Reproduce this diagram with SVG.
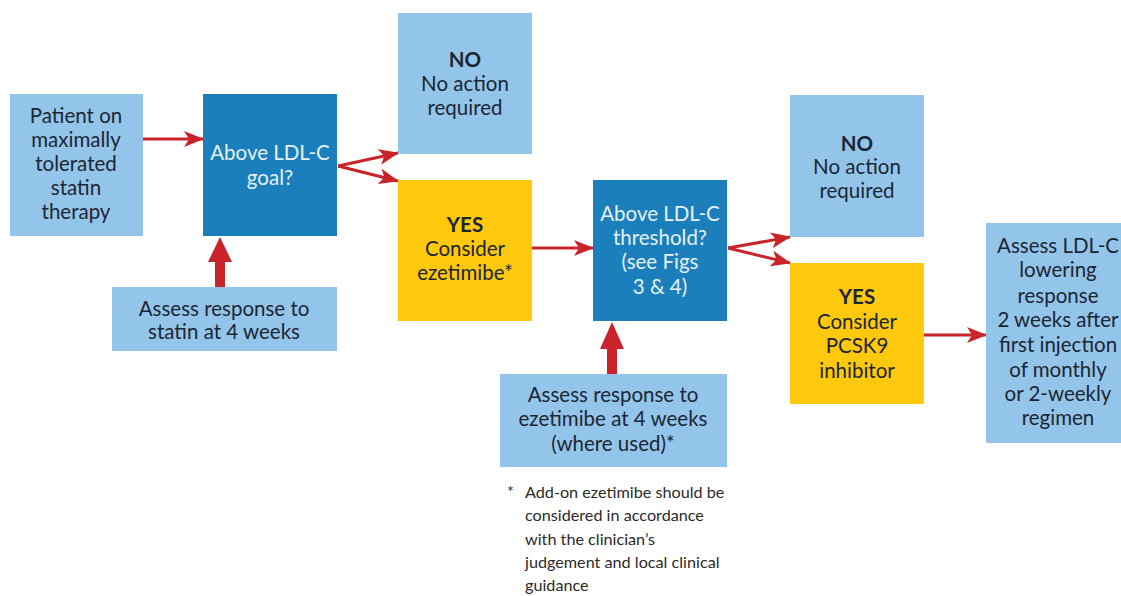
<svg xmlns="http://www.w3.org/2000/svg" width="1121" height="596" viewBox="0 0 1121 596">
<style>
.lb{fill:#93c5ea}
.db{fill:#1a7fbb}
.ye{fill:#fec80c}
text{font-family:Lato,"Open Sans","Liberation Sans",sans-serif;font-size:20.5px;fill:#1c2633;text-anchor:middle}
.w{fill:#e6f0f8}
.b{font-weight:bold}
.fn{font-size:16.2px;text-anchor:start;fill:#2a2a2a}
.ln{stroke:#c8242a;stroke-width:3;fill:none;marker-end:url(#ah)}
.thick{fill:#c8242a}
</style>
<defs>
<marker id="ah" markerUnits="userSpaceOnUse" markerWidth="20" markerHeight="16" refX="19" refY="8" orient="auto">
<path d="M0,0 L20,8 L0,16 L5,8 Z" fill="#c8242a"/>
</marker>
</defs>
<rect width="1121" height="596" fill="#ffffff"/>
<g id="connectors">
<line class="ln" x1="143" y1="139" x2="203" y2="139"/>
<line class="ln" x1="338" y1="166" x2="398" y2="153"/>
<line class="ln" x1="338" y1="166" x2="398" y2="181"/>
<line class="ln" x1="532" y1="248" x2="593" y2="248"/>
<line class="ln" x1="728" y1="248" x2="790" y2="237"/>
<line class="ln" x1="728" y1="248" x2="790" y2="263"/>
<line class="ln" x1="924" y1="335" x2="986" y2="335"/>
<polygon class="thick" points="215,287 215,262 208,262 220,237 232,262 225,262 225,287"/>
<polygon class="thick" points="607,374 607,349 600,349 612,322 624,349 617,349 617,374"/>
</g>
<g id="patient">
<rect class="lb" x="10" y="94" width="133" height="142"/>
<text x="76" y="123">Patient on</text>
<text x="76" y="147">maximally</text>
<text x="76" y="171">tolerated</text>
<text x="76" y="195">statin</text>
<text x="76" y="219">therapy</text>
</g>
<g id="goal">
<rect class="db" x="203" y="94" width="134" height="142"/>
<text class="w" x="270" y="160">Above LDL-C</text>
<text class="w" x="270" y="185">goal?</text>
</g>
<g id="assess-statin">
<rect class="lb" x="112" y="287" width="225" height="64"/>
<text x="224" y="316">Assess response to</text>
<text x="224" y="339">statin at 4 weeks</text>
</g>
<g id="no1">
<rect class="lb" x="398" y="13" width="134" height="141"/>
<text class="b" x="465" y="67">NO</text>
<text x="465" y="91">No action</text>
<text x="465" y="115">required</text>
</g>
<g id="yes1">
<rect class="ye" x="398" y="180" width="134" height="141"/>
<text class="b" x="465" y="232">YES</text>
<text x="465" y="256">Consider</text>
<text x="465" y="280">ezetimibe*</text>
</g>
<g id="threshold">
<rect class="db" x="593" y="180" width="134" height="141"/>
<text class="w" x="660" y="221">Above LDL-C</text>
<text class="w" x="660" y="245">threshold?</text>
<text class="w" x="660" y="269">(see Figs</text>
<text class="w" x="660" y="294">3 &amp; 4)</text>
</g>
<g id="assess-ezetimibe">
<rect class="lb" x="500" y="374" width="227" height="93"/>
<text x="613" y="402">Assess response to</text>
<text x="613" y="426">ezetimibe at 4 weeks</text>
<text x="613" y="451">(where used)*</text>
</g>
<g id="no2">
<rect class="lb" x="790" y="95" width="134" height="142"/>
<text class="b" x="857" y="151">NO</text>
<text x="857" y="174">No action</text>
<text x="857" y="198">required</text>
</g>
<g id="yes2">
<rect class="ye" x="790" y="263" width="134" height="141"/>
<text class="b" x="857" y="304">YES</text>
<text x="857" y="329">Consider</text>
<text x="857" y="353">PCSK9</text>
<text x="857" y="378">inhibitor</text>
</g>
<g id="assess-pcsk9">
<rect class="lb" x="986" y="223" width="144" height="220"/>
<text x="1058" y="253">Assess LDL-C</text>
<text x="1058" y="277">lowering</text>
<text x="1058" y="303">response</text>
<text x="1058" y="327">2 weeks after</text>
<text x="1058" y="352">first injection</text>
<text x="1058" y="377">of monthly</text>
<text x="1058" y="401">or 2-weekly</text>
<text x="1058" y="425">regimen</text>
</g>
<g id="footnote">
<text class="fn" x="507" y="497">*</text>
<text class="fn" x="525" y="498">Add-on ezetimibe should be</text>
<text class="fn" x="525" y="521">considered in accordance</text>
<text class="fn" x="525" y="545">with the clinician’s</text>
<text class="fn" x="525" y="568">judgement and local clinical</text>
<text class="fn" x="525" y="591">guidance</text>
</g>
</svg>
